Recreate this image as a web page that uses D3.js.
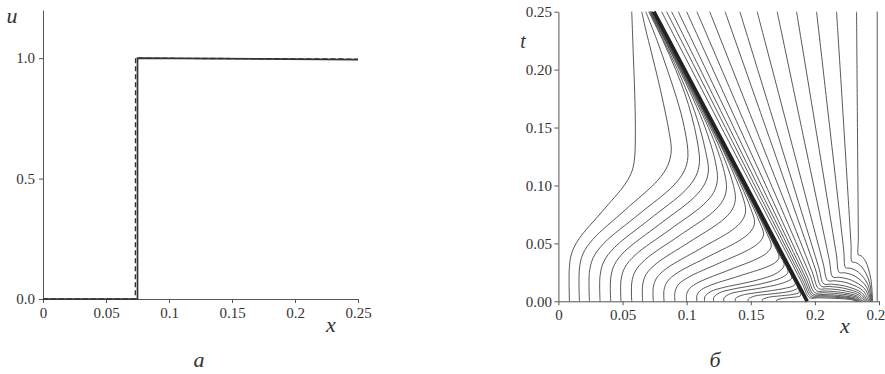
<!DOCTYPE html>
<html><head><meta charset="utf-8">
<script src="https://cdn.jsdelivr.net/npm/d3@7"></script>
<style>body{margin:0;background:#fff}svg{display:block}
svg text{font-family:"Liberation Serif","Times New Roman",Tinos,"DejaVu Serif",serif !important}</style>
</head><body><svg id="c" width="885" height="374"></svg>
<script>
// ---------- data: panel а ----------
const stepSolid = [[0,0],[0.075,0],[0.075,1.0],[0.25,0.994]];
const stepDashed = [[0,0],[0.0733,0],[0.0735,1.0],[0.25,0.996]];
const leftXTicks = [0,0.05,0.1,0.15,0.2,0.25];
const leftXLabels = ["0","0.05","0.1","0.15","0.2","0.25"];
const leftYTicks = [0,0.5,1.0];
const leftYLabels = ["0.0","0.5","1.0"];
// ---------- data: panel б ----------
const rightXTicks = [0,0.05,0.1,0.15,0.2,0.25];
const rightXLabels = ["0","0.05","0.1","0.15","0.2","0.25"];
const rightYTicks = [0,0.05,0.1,0.15,0.2,0.25];
const rightYLabels = ["0.00","0.05","0.10","0.15","0.20","0.25"];
const shockLine = [[0.194,0],[0.0745,0.25]];
// trajectories left of the thick line  [x, t]
const trajLeft = [
 [[0.0086,0],[0.0086,0.03],[0.0105,0.0419],[0.016,0.0538],[0.0341,0.0775],[0.0521,0.1013],[0.0576,0.1131],[0.0595,0.125],[0.06,0.15],[0.0595,0.18],[0.0585,0.21],[0.0572,0.25]],
 [[0.0164,0],[0.0164,0.028],[0.0191,0.0408],[0.0269,0.0535],[0.0522,0.079],[0.0775,0.1045],[0.0853,0.1173],[0.088,0.13],[0.0865,0.145],[0.083,0.165],[0.078,0.19],[0.0725,0.215],[0.068,0.235],[0.065,0.25]],
 [[0.0242,0],[0.0242,0.025],[0.0271,0.0375],[0.0354,0.05],[0.0626,0.075],[0.0898,0.1],[0.0981,0.1125],[0.101,0.125],[0.0982,0.15],[0.0923,0.175],[0.0849,0.2],[0.077,0.225],[0.0681,0.25]],
 [[0.0325,0],[0.0325,0.022],[0.0354,0.0343],[0.0438,0.0465],[0.0713,0.071],[0.0987,0.0955],[0.1071,0.1078],[0.110,0.12],[0.108,0.14],[0.1039,0.16],[0.0984,0.18],[0.0914,0.2],[0.0815,0.225],[0.0704,0.25]],
 [[0.0408,0],[0.0408,0.02],[0.0437,0.0316],[0.0519,0.0433],[0.0789,0.0665],[0.1059,0.0898],[0.1141,0.1014],[0.117,0.113],[0.1147,0.13],[0.1102,0.15],[0.1042,0.17],[0.0929,0.2],[0.0822,0.225],[0.0711,0.25]],
 [[0.0488,0],[0.0488,0.018],[0.0517,0.0289],[0.0598,0.0398],[0.0864,0.0615],[0.113,0.0833],[0.1211,0.0941],[0.124,0.105],[0.1225,0.12],[0.1175,0.14],[0.1109,0.16],[0.0987,0.19],[0.0854,0.22],[0.0716,0.25]],
 [[0.0572,0],[0.0572,0.016],[0.06,0.0261],[0.068,0.0363],[0.0941,0.0565],[0.1202,0.0768],[0.1282,0.0869],[0.131,0.097],[0.1297,0.11],[0.1242,0.13],[0.117,0.15],[0.1041,0.18],[0.0906,0.21],[0.072,0.25]],
 [[0.0657,0],[0.0657,0.014],[0.0684,0.0233],[0.0763,0.0325],[0.1019,0.051],[0.1274,0.0695],[0.1353,0.0788],[0.138,0.088],[0.1365,0.1],[0.1305,0.12],[0.1228,0.14],[0.1095,0.17],[0.091,0.21],[0.0724,0.25]],
 [[0.074,0],[0.074,0.012],[0.0767,0.0203],[0.0845,0.0285],[0.11,0.045],[0.1355,0.0615],[0.1433,0.0698],[0.146,0.078],[0.1438,0.09],[0.1367,0.11],[0.1285,0.13],[0.1103,0.17],[0.0916,0.21],[0.0728,0.25]],
 [[0.0824,0],[0.0824,0.01],[0.0851,0.0173],[0.0927,0.0245],[0.1177,0.039],[0.1427,0.0535],[0.1503,0.0608],[0.153,0.068],[0.15,0.08],[0.1425,0.1],[0.1292,0.13],[0.1107,0.17],[0.0919,0.21],[0.0731,0.25]],
 [[0.0909,0],[0.0909,0.008],[0.0935,0.0143],[0.101,0.0205],[0.1255,0.033],[0.1499,0.0455],[0.1574,0.0518],[0.160,0.058],[0.1563,0.07],[0.1481,0.09],[0.1345,0.12],[0.1158,0.16],[0.0972,0.2],[0.0734,0.25]],
 [[0.1,0],[0.1,0.006],[0.1025,0.0113],[0.1096,0.0165],[0.133,0.027],[0.1564,0.0375],[0.1635,0.0428],[0.166,0.048],[0.162,0.06],[0.1535,0.08],[0.1397,0.11],[0.121,0.15],[0.0976,0.2],[0.0736,0.25]],
 [[0.108,0],[0.108,0.005],[0.1104,0.0091],[0.1173,0.0133],[0.14,0.0215],[0.1627,0.0298],[0.1696,0.0339],[0.172,0.038],[0.1676,0.05],[0.1588,0.07],[0.1448,0.1],[0.1265,0.138]],
 [[0.114,0],[0.1142,0.004],[0.119,0.0085],[0.129,0.012],[0.144,0.0155],[0.159,0.0195],[0.1705,0.0245],[0.176,0.031],[0.1725,0.04],[0.1632,0.06],[0.154,0.08],[0.1395,0.11]],
 [[0.121,0],[0.1212,0.0035],[0.126,0.0075],[0.136,0.0105],[0.151,0.0135],[0.165,0.017],[0.175,0.021],[0.179,0.025],[0.1765,0.033],[0.1685,0.05],[0.159,0.07],[0.1455,0.098]],
 [[0.129,0],[0.1292,0.003],[0.134,0.0065],[0.144,0.009],[0.158,0.0115],[0.171,0.0145],[0.179,0.0175],[0.182,0.02],[0.1795,0.027],[0.1724,0.042],[0.163,0.062],[0.151,0.087]],
 [[0.138,0],[0.1382,0.0025],[0.143,0.0052],[0.153,0.0072],[0.166,0.0092],[0.177,0.0113],[0.1835,0.0135],[0.1848,0.0155],[0.182,0.022],[0.1748,0.037],[0.1658,0.056],[0.155,0.079]],
 [[0.148,0],[0.1482,0.002],[0.153,0.0045],[0.163,0.006],[0.175,0.0075],[0.1835,0.0095],[0.1868,0.012],[0.1833,0.019],[0.1767,0.033],[0.1687,0.05],[0.159,0.07]],
 [[0.159,0],[0.1592,0.0015],[0.164,0.0035],[0.174,0.0048],[0.183,0.006],[0.1878,0.0078],[0.1862,0.013],[0.18,0.026],[0.1715,0.044],[0.162,0.064]],
 [[0.17,0],[0.1702,0.001],[0.175,0.0025],[0.183,0.0035],[0.1888,0.0048],[0.1882,0.009],[0.183,0.02],[0.1743,0.038],[0.165,0.058]]
];
// trajectories right of the thick line  [x, t]
const trajRight = [
 [[0.233,0],[0.228,0.0015],[0.2145,0.0026],[0.2024,0.003],[0.196,0.003],[0.189,0.018],[0.1347,0.134],[0.0805,0.25]],
 [[0.234,0],[0.229,0.002],[0.2155,0.0035],[0.2034,0.0039],[0.197,0.004],[0.1901,0.019],[0.1375,0.134],[0.0844,0.25]],
 [[0.235,0],[0.23,0.0025],[0.2165,0.0043],[0.2044,0.0049],[0.198,0.005],[0.1913,0.02],[0.1398,0.135],[0.0883,0.25]],
 [[0.236,0],[0.231,0.003],[0.2175,0.0052],[0.2054,0.0059],[0.199,0.006],[0.1925,0.021],[0.143,0.1355],[0.0935,0.25]],
 [[0.237,0],[0.232,0.0038],[0.2185,0.0065],[0.2064,0.0074],[0.2,0.0075],[0.1938,0.0225],[0.1469,0.136],[0.1,0.25]],
 [[0.238,0],[0.2331,0.0045],[0.2198,0.0078],[0.2079,0.0089],[0.2015,0.009],[0.1957,0.024],[0.1518,0.137],[0.108,0.25]],
 [[0.239,0],[0.2342,0.0055],[0.221,0.0095],[0.2093,0.0108],[0.203,0.011],[0.1977,0.026],[0.1579,0.138],[0.118,0.25]],
 [[0.24,0],[0.2353,0.0065],[0.2225,0.0113],[0.2111,0.0128],[0.205,0.013],[0.2003,0.028],[0.1652,0.139],[0.13,0.25]],
 [[0.241,0],[0.2364,0.0075],[0.224,0.013],[0.2129,0.0148],[0.207,0.015],[0.2028,0.03],[0.1721,0.14],[0.1415,0.25]],
 [[0.242,0],[0.2377,0.009],[0.226,0.0156],[0.2156,0.0177],[0.21,0.018],[0.2064,0.033],[0.1807,0.1415],[0.155,0.25]],
 [[0.243,0],[0.2391,0.0105],[0.2285,0.0182],[0.219,0.0207],[0.214,0.021],[0.2112,0.036],[0.1909,0.143],[0.1706,0.25]],
 [[0.2435,0],[0.2402,0.0125],[0.2313,0.0217],[0.2233,0.0246],[0.219,0.025],[0.2168,0.04],[0.2013,0.145],[0.1857,0.25]],
 [[0.244,0],[0.2413,0.0145],[0.234,0.0251],[0.2275,0.0286],[0.224,0.029],[0.2225,0.044],[0.2119,0.147],[0.2013,0.25]],
 [[0.2445,0],[0.2424,0.017],[0.2368,0.0294],[0.2317,0.0335],[0.229,0.034],[0.2282,0.049],[0.2226,0.15],[0.2169,0.25]],
 [[0.245,0],[0.2435,0.02],[0.2395,0.0346],[0.2359,0.0394],[0.234,0.04],[0.2339,0.055],[0.2332,0.15],[0.2325,0.25]],
 [[0.2486,0],[0.2486,0.25]]
];

// ---------- drawing ----------
const FONT = '"Liberation Serif","Times New Roman",Tinos,"DejaVu Serif",serif';
const INK = "#333", AX = "#555";
const svg = d3.select("#c");

const xL = d3.scaleLinear([0,0.25],[43,358]);
const yL = d3.scaleLinear([0,1.2],[299,10]);
const xR = d3.scaleLinear([0,0.25],[558.4,879]);
const yR = d3.scaleLinear([0,0.25],[301.3,11.7]);

function styleAxis(g){
  g.attr("font-family",null).attr("font-size",null);
  g.selectAll("path,line").attr("stroke",AX).attr("stroke-width",1);
  g.selectAll("text").style("font-family",FONT).attr("font-size",15).attr("fill",INK);
}
function axes(x, y, xt, xl, yt, yl, xMinor, yMinor, yPad){
  const gx = svg.append("g").attr("transform",`translate(0,${y.range()[0]})`);
  gx.call(d3.axisBottom(x).tickValues(xMinor).tickSize(2).tickSizeOuter(0).tickFormat(""));
  gx.call(d3.axisBottom(x).tickValues(xt).tickSize(4).tickSizeOuter(0).tickPadding(4.5).tickFormat((d,i)=>xl[i]));
  styleAxis(gx);
  const gy = svg.append("g").attr("transform",`translate(${x.range()[0]},0)`);
  gy.call(d3.axisLeft(y).tickValues(yMinor).tickSize(2).tickSizeOuter(0).tickFormat(""));
  gy.call(d3.axisLeft(y).tickValues(yt).tickSize(4).tickSizeOuter(0).tickPadding(yPad).tickFormat((d,i)=>yl[i]));
  styleAxis(gy);
}
axes(xL, yL, leftXTicks, leftXLabels, leftYTicks, leftYLabels,
     d3.range(0,0.2501,0.01), d3.range(0,1.2001,0.1), 4);
axes(xR, yR, rightXTicks, rightXLabels, rightYTicks, rightYLabels,
     d3.range(0,0.2501,0.01), d3.range(0,0.2501,0.01), 2.5);

// panel а
const lineL = d3.line().x(d=>xL(d[0])).y(d=>yL(d[1]));
svg.append("path").attr("d",lineL(stepDashed)).attr("fill","none")
  .attr("stroke",INK).attr("stroke-width",1.4).attr("stroke-dasharray","5,3");
svg.append("path").attr("d",lineL(stepSolid)).attr("fill","none")
  .attr("stroke",INK).attr("stroke-width",1.7);

// panel б
const lineR = d3.line().x(d=>xR(d[0])).y(d=>yR(d[1])).curve(d3.curveCatmullRom.alpha(0.5));
const gT = svg.append("g").attr("fill","none").attr("stroke","#3a3a3a").attr("stroke-width",0.85);
gT.selectAll("path.l").data(trajLeft).join("path").attr("class","l").attr("d",lineR);
gT.selectAll("path.r").data(trajRight).join("path").attr("class","r").attr("d",lineR);
svg.append("path").attr("d",d3.line().x(d=>xR(d[0])).y(d=>yR(d[1]))(shockLine))
  .attr("fill","none").attr("stroke","#222").attr("stroke-width",3.6);

// labels
function lab(txt,x,y,size){
  svg.append("text").attr("x",x).attr("y",y).attr("text-anchor","middle")
    .style("font-family",FONT).attr("font-style","italic").attr("font-size",size)
    .attr("fill",INK).text(txt);
}
lab("u",12,23,22);
lab("x",331,332,22);
lab("а",199,367,22);
lab("t",523,48,20);
lab("x",845,333,22);
lab("б",715,367,22);
</script></body></html>
